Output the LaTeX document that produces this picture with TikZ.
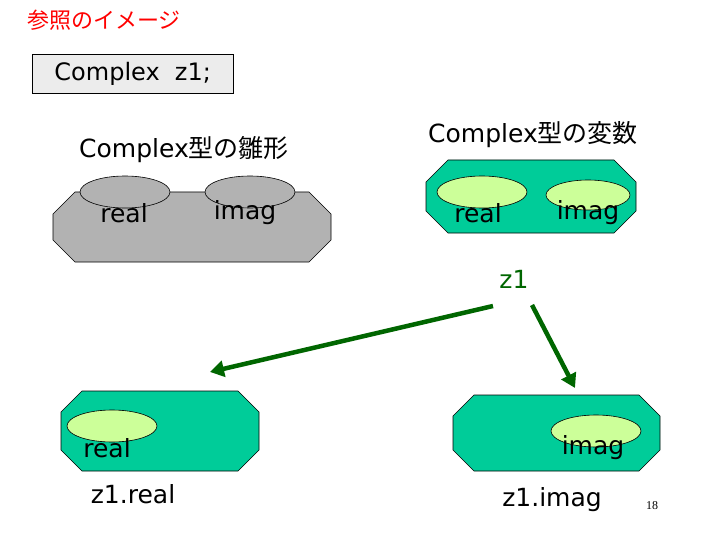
\documentclass[tikz,border=0pt]{standalone}
\usepackage{fontspec}
\setmainfont{DejaVu Sans}
\newfontfamily\cjk{Noto Sans CJK JP}
\newfontfamily\serifnum{Liberation Serif}
\usetikzlibrary{arrows.meta}
\definecolor{gfill}{RGB}{0,204,153}
\definecolor{yfill}{RGB}{204,255,153}
\definecolor{gray1}{RGB}{178,178,178}
\definecolor{dgreen}{RGB}{0,102,0}
\tikzset{lbl/.style={font=\fontsize{25}{28}\selectfont, inner sep=0pt},
 oct/.style={draw=black, line width=0.6pt},
 arr/.style={draw=dgreen, line width=4.5pt, -{Triangle[length=14pt,width=16pt]}}}
\begin{document}
\begin{tikzpicture}[x=1pt,y=-1pt]
\useasboundingbox (0,0) rectangle (720,540);
% title
\node[anchor=west, inner sep=0pt, text=red, font=\cjk\fontsize{22}{24}\selectfont] (title) at (27,20) {参照のイメージ};
\node[draw=black, fill=gray!15, anchor=north west, minimum width=201pt, minimum height=39pt, font=\fontsize{24}{28}\selectfont, inner sep=0pt] (decl) at (32,54) {Complex\ \ z1;};
% headings
\node[lbl, anchor=west] (h1) at (79,150) {Complex{\cjk 型の雛形}};
\node[lbl, anchor=west] (h2) at (428,135) {Complex{\cjk 型の変数}};
% gray octagon
\draw[oct, fill=gray1] (75,192)--(309,192)--(331,214)--(331,240)--(309,262)--(75,262)--(53,240)--(53,214)--cycle;
\draw[oct, fill=gray1] (125,192) ellipse [x radius=45, y radius=16];
\draw[oct, fill=gray1] (250,192) ellipse [x radius=45, y radius=16];
\node[lbl] (r1) at (124,213) {real};
\node[lbl] (i1) at (245,213) {imag};
% green octagon top
\draw[oct, fill=gfill] (448,160)--(614,160)--(636,182)--(636,211)--(614,233)--(448,233)--(426,211)--(426,182)--cycle;
\draw[oct, fill=yfill] (482,192) ellipse [x radius=45, y radius=16];
\draw[oct, fill=yfill] (588,195) ellipse [x radius=42, y radius=15];
\node[lbl] (r2) at (478,213) {real};
\node[lbl] (i2) at (588,213) {imag};
\node[lbl, text=dgreen] (z1) at (514,279) {z1};
\coordinate (a1) at (493,306);
\coordinate (a2) at (532,305);
% bottom-left
\draw[oct, fill=gfill] (82,391)--(238,391)--(259,412)--(259,450)--(238,471)--(82,471)--(61,450)--(61,412)--cycle;
\draw[oct, fill=yfill] (112,426) ellipse [x radius=45, y radius=16];
\node[lbl] (r3) at (107,448) {real};
\node[lbl] (zr) at (133,494) {z1.real};
% bottom-right
\draw[oct, fill=gfill] (474,395)--(639,395)--(660,416)--(660,450)--(639,471)--(474,471)--(453,450)--(453,416)--cycle;
\draw[oct, fill=yfill] (596,431) ellipse [x radius=45, y radius=16];
\node[lbl] (i3) at (593,448) {imag};
\node[lbl] (zi) at (552,500) {z1.imag};
\node[inner sep=0pt, font=\serifnum\fontsize{12}{14}\selectfont] (pg) at (652,506) {18};
\coordinate (b1) at (210,372);
\coordinate (b2) at (575,388);
\draw[arr] (a1) -- (b1);
\draw[arr] (a2) -- (b2);
\end{tikzpicture}
\end{document}
